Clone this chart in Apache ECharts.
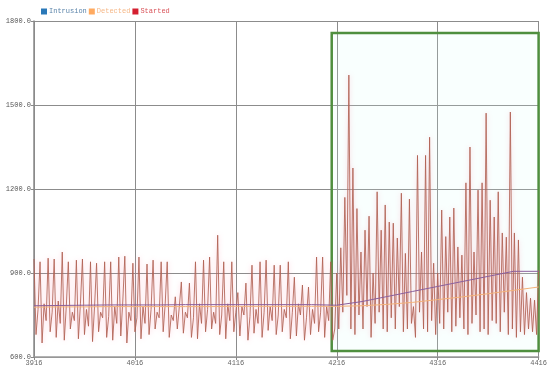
<!DOCTYPE html>
<html>
<head>
<meta charset="utf-8">
<script src="https://cdn.jsdelivr.net/npm/echarts@6/dist/echarts.min.js"></script>
<style>
  html, body { margin: 0; padding: 0; background: #fff; }
  #chart { width: 550px; height: 372px; }
</style>
</head>
<body>
<div id="chart"></div>
<script>
// tick labels
const xLabels = ['3916', '4016', '4116', '4216', '4316', '4416'];
const yLabels = ['600.0', '900.0', '1200.0', '1500.0', '1800.0'];

// Started: first part, one value every 2 units
const startedEarly = [
  950, 680, 770,  940, 650, 790, 730,  953, 690, 760,  950, 670, 800, 720,
  975, 660, 780,  940, 700, 760, 730,  946, 665, 790,  950, 680, 770, 710,
  940, 655, 780,  935, 690, 760, 740,  940, 670, 745,  940, 660, 780, 720,
  957, 675, 800,  960, 650, 760, 730,  935, 690, 740,  957, 665, 780, 720,
  932, 680, 770,  946, 700, 760, 740,  940, 690, 790,  940, 670, 750, 730,
  815, 700, 780,  868, 685, 760, 740,  864, 670, 740,  940, 665, 790, 720,
  946, 690, 770,  957, 700, 760, 720,  1035, 680, 750, 940, 665, 790, 730,
  940, 690, 760,  830, 675, 780, 750,  864, 660, 745,  928, 685, 770, 720,
  940, 670, 760,  946, 695, 780, 730,  928, 680, 750,  928, 690, 770, 740,
  940, 665, 760,  885, 675, 790, 750,  857, 660, 740,  850, 680, 770, 720,
  957, 690, 760,  957, 670, 780, 730,  940, 660, 700
];
// Started: second part, peaks and troughs alternate
const startedPeaks = [
  900, 990, 1170, 1607, 1275, 1130, 975, 1053, 1103, 900,
  1190, 1053, 1143, 1082, 1078, 1025, 1185, 970, 1164, 780,
  1320, 975, 1320, 1385, 935, 900, 1125, 1030, 1100, 1132,
  993, 964, 1222, 1350, 975, 1196, 1222, 1471, 1160, 1100,
  1190, 1043, 1028, 1475, 1043, 1018, 885, 830, 810, 803, 910
];
const startedTroughs = [
  700, 760, 820, 700, 680, 750, 700, 780, 670, 720,
  760, 700, 690, 740, 700, 780, 690, 700, 720, 670,
  760, 700, 690, 730, 680, 720, 700, 760, 690, 710,
  740, 700, 680, 720, 750, 690, 700, 680, 730, 720,
  690, 760, 680, 700, 670, 690, 680, 700, 690, 680
];
// Intrusion and Detected, one value every 25 units
const intrusion = [783, 784, 785, 786, 786, 786, 787, 787, 787, 787, 787, 787, 785, 798, 816, 834, 852, 870, 888, 906, 906];
const detected = [778, 779, 779, 780, 780, 780, 780, 780, 781, 781, 781, 781, 781, 783, 788, 795, 805, 815, 826, 838, 850];

// highlighted window
const boxX = [295, 510];
const boxY = [621, 1757];

const started = startedEarly.slice();
startedPeaks.forEach((p, i) => {
  started.push(p);
  if (i < startedTroughs.length) started.push(startedTroughs[i]);
});

const chart = echarts.init(document.getElementById('chart'));
const font = 'Liberation Mono';

chart.setOption({
  animation: false,
  backgroundColor: '#fff',
  legend: {
    top: 3,
    left: 36,
    icon: 'rect',
    itemWidth: 6,
    itemHeight: 6,
    itemGap: 2,
    textStyle: { fontFamily: font, fontSize: 7, padding: [0, 0, 0, -3] },
    data: [
      { name: 'Intrusion', itemStyle: { color: '#2a78b8' }, textStyle: { color: '#5b84aa' } },
      { name: 'Detected', itemStyle: { color: '#ffaa60' }, textStyle: { color: '#f5b888' } },
      { name: 'Started', itemStyle: { color: '#d42030' }, textStyle: { color: '#d9545a' } }
    ]
  },
  grid: { left: 34, right: 10, top: 21, bottom: 15 },
  xAxis: {
    type: 'value',
    min: 0,
    max: 500,
    interval: 100,
    axisLine: { lineStyle: { color: '#9a9a9a', width: 1.5 } },
    axisTick: { show: true, length: 3, lineStyle: { color: '#888' } },
    axisLabel: {
      fontFamily: font, fontSize: 7, color: '#666', margin: 3,
      formatter: v => xLabels[Math.round(v / 100)]
    },
    splitLine: { show: true, lineStyle: { color: '#8c8c8c', width: 1 } }
  },
  yAxis: {
    type: 'value',
    min: 600,
    max: 1800,
    interval: 300,
    axisLine: { show: true, lineStyle: { color: '#8a8a8a', width: 1.5 } },
    axisTick: { show: true, length: 3, lineStyle: { color: '#888' } },
    axisLabel: {
      fontFamily: font, fontSize: 7, color: '#555', margin: 3,
      formatter: v => yLabels[Math.round((v - 600) / 300)]
    },
    splitLine: { show: true, lineStyle: { color: '#8c8c8c', width: 1 } }
  },
  series: [
    {
      name: 'Started',
      type: 'line',
      symbol: 'none',
      clip: false,
      z: 2,
      data: started.map((v, i) => [i * 2, v]),
      lineStyle: {
        color: 'rgba(176,96,82,0.85)',
        width: 1,
        shadowColor: 'rgba(255,140,170,0.5)',
        shadowBlur: 5
      },
      itemStyle: { color: '#d42030' },
      markArea: {
        silent: true,
        itemStyle: {
          color: 'rgba(210,255,245,0.14)',
          borderColor: '#4f8f3f',
          borderWidth: 2.5
        },
        data: [[{ xAxis: boxX[0], yAxis: boxY[1] }, { xAxis: boxX[1], yAxis: boxY[0] }]]
      }
    },
    {
      name: 'Detected',
      type: 'line',
      symbol: 'none',
      z: 3,
      data: detected.map((v, i) => [i * 25, v]),
      lineStyle: { color: '#f3b27a', width: 1 },
      itemStyle: { color: '#ffaa60' }
    },
    {
      name: 'Intrusion',
      type: 'line',
      symbol: 'none',
      z: 4,
      data: intrusion.map((v, i) => [i * 25, v]),
      lineStyle: { color: '#8a5f9c', width: 1 },
      itemStyle: { color: '#2a78b8' }
    }
  ]
});
</script>
</body>
</html>
